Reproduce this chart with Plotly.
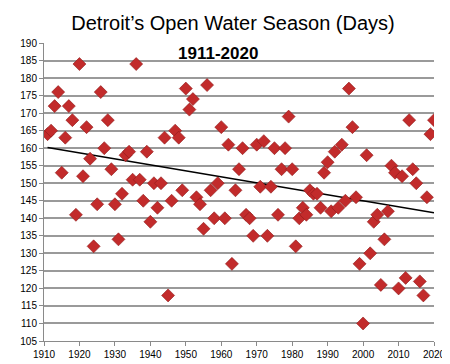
import numpy as np
import plotly.graph_objects as go

years = list(range(1911, 2021))
days = [164, 165, 172, 176, 153, 163, 172, 168, 141, 184,
        152, 166, 157, 132, 144, 176, 160, 168, 154, 144,
        134, 147, 158, 159, 151, 184, 151, 145, 159, 139,
        150, 143, 150, 163, 118, 145, 165, 163, 148, 177,
        171, 174, 146, 144, 137, 178, 148, 140, 150, 166,
        140, 161, 127, 148, 154, 160, 141, 140, 135, 161,
        149, 162, 135, 149, 160, 141, 154, 160, 169, 154,
        132, 140, 143, 141, 148, 147, 147, 143, 153, 156,
        142, 159, 143, 161, 145, 177, 166, 146, 127, 110,
        158, 130, 139, 141, 121, 134, 142, 155, 153, 120,
        152, 123, 168, 154, 150, 122, 118, 146, 164, 168]

x_ticks = list(range(1910, 2021, 10))
y_ticks = list(range(105, 191, 5))

slope, intercept = np.polyfit(years, days, 1)
trend_x = [years[0], years[-1]]
trend_y = [slope * v + intercept for v in trend_x]

fig = go.Figure()
fig.add_trace(go.Scatter(
    x=trend_x, y=trend_y, mode="lines",
    line=dict(color="black", width=1.6), hoverinfo="skip", showlegend=False))
fig.add_trace(go.Scatter(
    x=years, y=days, mode="markers",
    marker=dict(symbol="diamond", size=10, color="#C22B2B",
                line=dict(color="#8E1B1B", width=0.6)),
    showlegend=False))

fig.update_layout(
    width=450, height=364,
    margin=dict(l=32, r=15, t=35, b=26),
    paper_bgcolor="white", plot_bgcolor="white",
    font=dict(family="Liberation Sans, Arial, sans-serif", color="black"),
    title=dict(text="Detroit’s Open Water Season (Days)", x=0.5, xanchor="center",
               y=0.96, yanchor="middle", font=dict(size=20, color="black")),
    annotations=[dict(text="<b>1911-2020</b>", x=0.445, y=0.965, xref="paper", yref="paper",
                      showarrow=False, font=dict(size=17, color="black"),
                      xanchor="center", yanchor="middle")],
)
fig.update_xaxes(range=[1910, 2020], tickvals=x_ticks, showgrid=False,
                 showline=True, linecolor="#8a8a8a", linewidth=1,
                 ticks="outside", ticklen=4, tickcolor="#8a8a8a",
                 tickfont=dict(size=10), zeroline=False)
fig.update_yaxes(range=[105, 190], tickvals=y_ticks, showgrid=True,
                 gridcolor="#9a9a9a", gridwidth=1.6,
                 showline=True, linecolor="#8a8a8a", linewidth=1,
                 ticks="outside", ticklen=4, tickcolor="#8a8a8a",
                 tickfont=dict(size=10), zeroline=False)

fig.write_html("out.html")
